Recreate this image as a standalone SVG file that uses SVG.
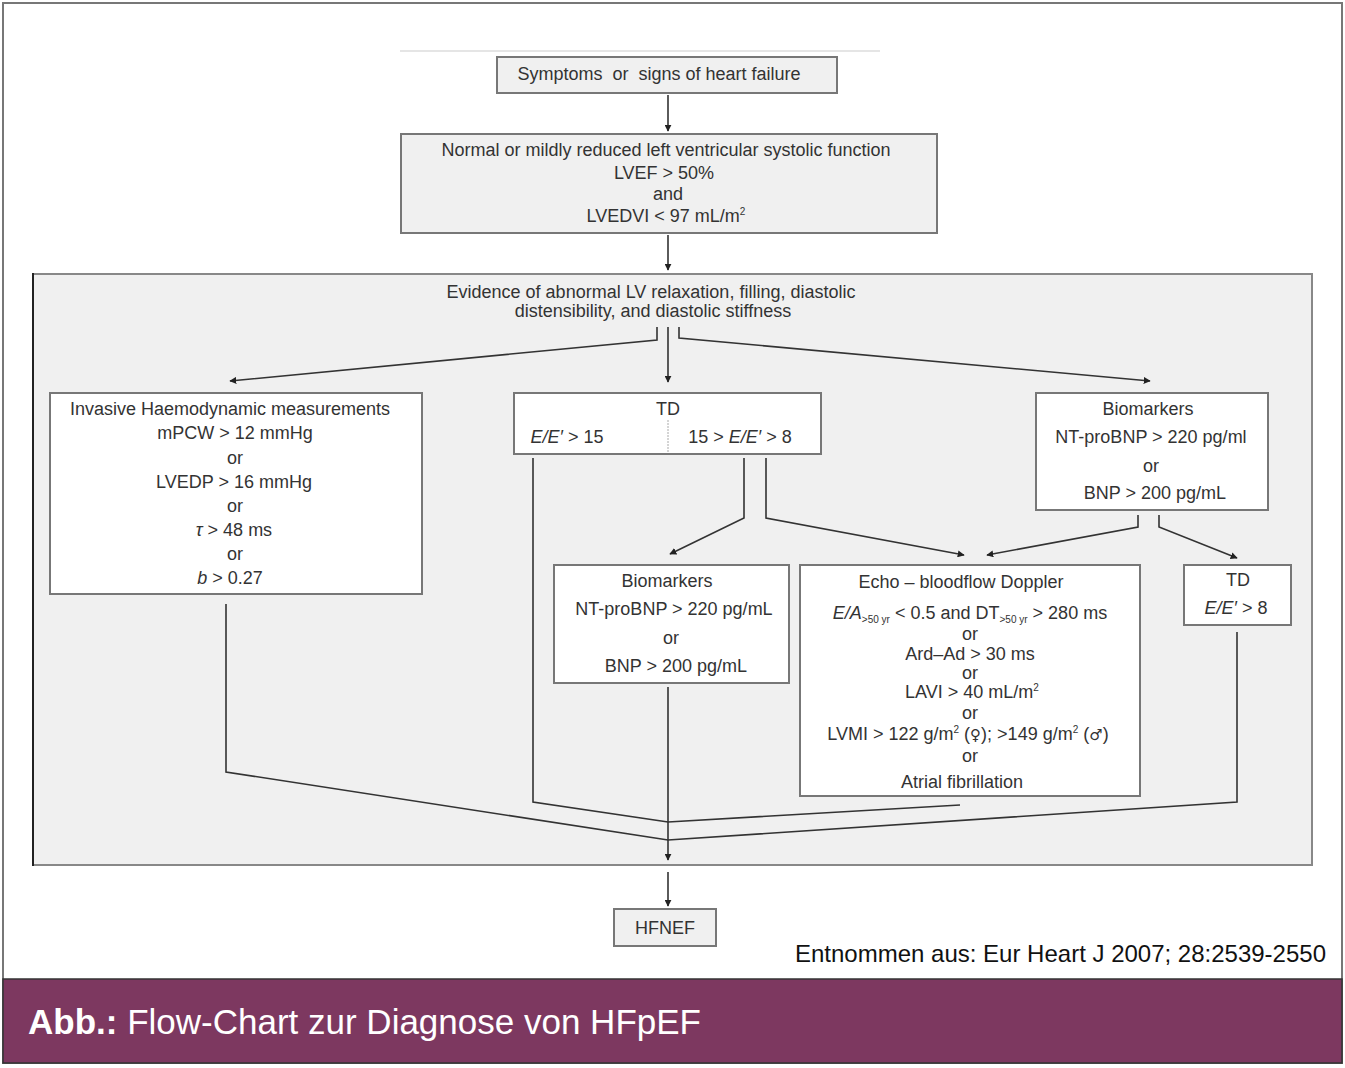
<svg xmlns="http://www.w3.org/2000/svg" width="1345" height="1068" viewBox="0 0 1345 1068">
<defs>
<style>
.t{font-family:"Liberation Sans",Arial,sans-serif;font-size:18px;fill:#333;text-anchor:middle}
.i{font-style:italic}
.sym{font-family:"DejaVu Sans",sans-serif;font-size:15px}
.box{fill:#fff;stroke:#777;stroke-width:2}
.gbox{fill:#f0f0f0;stroke:#777;stroke-width:2}
.c{fill:none;stroke:#333;stroke-width:1.6}
.sub{font-size:10px}
</style>
<marker id="ah" viewBox="0 0 10 10" refX="9" refY="5" markerWidth="7" markerHeight="7" markerUnits="userSpaceOnUse" orient="auto">
<path d="M0,0 L10,5 L0,10 z" fill="#222"/>
</marker>
</defs>
<rect x="0" y="0" width="1345" height="1068" fill="#fff"/>
<rect x="3" y="3" width="1339" height="1060" fill="#fff" stroke="#777" stroke-width="2"/>
<line x1="400" y1="51" x2="880" y2="51" stroke="#ddd" stroke-width="1.5"/>

<g id="container">
<rect x="33" y="274" width="1279" height="591" fill="#f0f0f0" stroke="#888" stroke-width="2"/>
<line x1="33" y1="273" x2="33" y2="866" stroke="#222" stroke-width="2"/>
<text class="t" x="651" y="298">Evidence of abnormal LV relaxation, filling, diastolic</text>
<text class="t" x="653" y="317">distensibility, and diastolic stiffness</text>
</g>

<g id="n-symptoms">
<rect class="gbox" x="497" y="57" width="340" height="36"/>
<text class="t" x="659" y="80" style="white-space:pre">Symptoms  or  signs of heart failure</text>
</g>

<g id="n-normal">
<rect class="gbox" x="401" y="134" width="536" height="99"/>
<text class="t" x="666" y="156">Normal or mildly reduced left ventricular systolic function</text>
<text class="t" x="664" y="179">LVEF &gt; 50%</text>
<text class="t" x="668" y="200">and</text>
<text class="t" x="666" y="222">LVEDVI &lt; 97 mL/m<tspan class="sub" dy="-7">2</tspan></text>
</g>

<g id="n-invasive">
<rect class="box" x="50" y="393" width="372" height="201"/>
<text class="t" x="230" y="415">Invasive Haemodynamic measurements</text>
<text class="t" x="235" y="439">mPCW &gt; 12 mmHg</text>
<text class="t" x="235" y="464">or</text>
<text class="t" x="234" y="488">LVEDP &gt; 16 mmHg</text>
<text class="t" x="235" y="512">or</text>
<text class="t" x="234" y="536"><tspan class="i">τ</tspan> &gt; 48 ms</text>
<text class="t" x="235" y="560">or</text>
<text class="t" x="230" y="584"><tspan class="i">b</tspan> &gt; 0.27</text>
</g>

<g id="n-td">
<rect class="box" x="514" y="393" width="307" height="61"/>
<text class="t" x="668" y="415">TD</text>
<line x1="668" y1="420" x2="668" y2="452" stroke="#aaa" stroke-width="1" stroke-dasharray="2,1"/>
<text class="t" x="567" y="443"><tspan class="i">E/E′</tspan> &gt; 15</text>
<text class="t" x="740" y="443">15 &gt; <tspan class="i">E/E′</tspan> &gt; 8</text>
</g>

<g id="n-bio-right">
<rect class="box" x="1036" y="393" width="232" height="117"/>
<text class="t" x="1148" y="415">Biomarkers</text>
<text class="t" x="1151" y="443">NT-proBNP &gt; 220 pg/ml</text>
<text class="t" x="1151" y="472">or</text>
<text class="t" x="1155" y="499">BNP &gt; 200 pg/mL</text>
</g>

<g id="n-bio-mid">
<rect class="box" x="554" y="565" width="235" height="118"/>
<text class="t" x="667" y="587">Biomarkers</text>
<text class="t" x="674" y="615">NT-proBNP &gt; 220 pg/mL</text>
<text class="t" x="671" y="644">or</text>
<text class="t" x="676" y="672">BNP &gt; 200 pg/mL</text>
</g>

<g id="n-echo">
<rect class="box" x="800" y="565" width="340" height="231"/>
<text class="t" x="961" y="588">Echo – bloodflow Doppler</text>
<text class="t" x="970" y="619"><tspan class="i">E/A</tspan><tspan class="sub" dy="4">&gt;50 yr</tspan><tspan dy="-4"> &lt; 0.5 and DT</tspan><tspan class="sub" dy="4">&gt;50 yr</tspan><tspan dy="-4"> &gt; 280 ms</tspan></text>
<text class="t" x="970" y="640">or</text>
<text class="t" x="970" y="660">Ard–Ad &gt; 30 ms</text>
<text class="t" x="970" y="679">or</text>
<text class="t" x="972" y="698">LAVI &gt; 40 mL/m<tspan class="sub" dy="-7">2</tspan></text>
<text class="t" x="970" y="719">or</text>
<text class="t" x="968" y="740">LVMI &gt; 122 g/m<tspan class="sub" dy="-7">2</tspan><tspan dy="7"> (</tspan><tspan class="sym">♀</tspan>); &gt;149 g/m<tspan class="sub" dy="-7">2</tspan><tspan dy="7"> (</tspan><tspan class="sym">♂</tspan>)</text>
<text class="t" x="970" y="762">or</text>
<text class="t" x="962" y="788">Atrial fibrillation</text>
</g>

<g id="n-td-right">
<rect class="box" x="1184" y="565" width="107" height="60"/>
<text class="t" x="1238" y="586">TD</text>
<text class="t" x="1236" y="614"><tspan class="i">E/E′</tspan> &gt; 8</text>
</g>

<g id="n-hfnef">
<rect class="gbox" x="614" y="909" width="102" height="37"/>
<text class="t" x="665" y="934">HFNEF</text>
</g>

<g id="connectors">
<line class="c" x1="668" y1="95" x2="668" y2="131" marker-end="url(#ah)"/>
<line class="c" x1="668" y1="235" x2="668" y2="270" marker-end="url(#ah)"/>
<polyline class="c" points="657,327 657,340 230,381" marker-end="url(#ah)"/>
<line class="c" x1="668" y1="327" x2="668" y2="382" marker-end="url(#ah)"/>
<polyline class="c" points="679,327 679,338 1150,381" marker-end="url(#ah)"/>
<polyline class="c" points="744,458 744,518 670,554" marker-end="url(#ah)"/>
<polyline class="c" points="766,458 766,518 964,555" marker-end="url(#ah)"/>
<polyline class="c" points="1138,515 1138,527 987,555" marker-end="url(#ah)"/>
<polyline class="c" points="1159,515 1159,527 1237,558" marker-end="url(#ah)"/>
<polyline class="c" points="533,458 533,802 668,822 960,805"/>
<polyline class="c" points="226,604 226,772 668,840 1237,802 1237,632"/>
<line class="c" x1="668" y1="687" x2="668" y2="860" marker-end="url(#ah)"/>
<line class="c" x1="668" y1="872" x2="668" y2="906" marker-end="url(#ah)"/>
</g>

<text x="1326" y="962" style="font-family:'Liberation Sans',Arial,sans-serif;font-size:24px;fill:#111;text-anchor:end">Entnommen aus: Eur Heart J 2007; 28:2539-2550</text>

<g id="banner">
<rect x="3" y="979" width="1339" height="84" fill="#7d3860" stroke="#333" stroke-width="1.5"/>
<text x="28" y="1034" style="font-family:'Liberation Sans',Arial,sans-serif;font-size:35px;fill:#fff"><tspan font-weight="bold">Abb.:</tspan> Flow-Chart zur Diagnose von HFpEF</text>
</g>
</svg>
